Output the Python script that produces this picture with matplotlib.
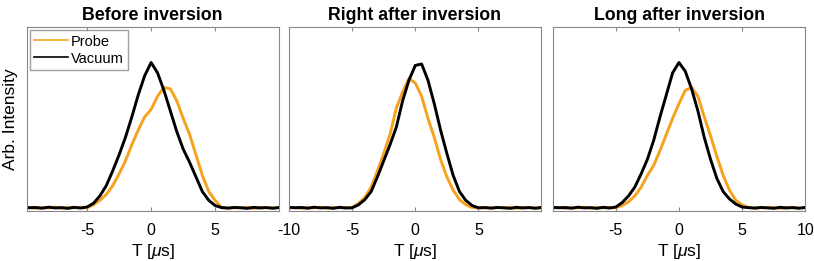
import numpy as np
import matplotlib
matplotlib.use('Agg')
import matplotlib.pyplot as plt

plt.rcParams['font.family'] = ['Liberation Sans', 'DejaVu Sans']
plt.rcParams['axes.unicode_minus'] = False
plt.rcParams['mathtext.fontset'] = 'custom'
plt.rcParams['mathtext.it'] = 'Liberation Sans:italic'
plt.rcParams['mathtext.rm'] = 'Liberation Sans'

# time axis [us], 0.5 us steps from -10 to 10
t = np.arange(-10, 10.01, 0.5)

titles = ['Before inversion', 'Right after inversion', 'Long after inversion']
xlims = [(-9.7, 9.95), (-10, 9.95), (-9.95, 10)]
xticks = [[-5, 0, 5], [-10, -5, 0, 5], [-5, 0, 5, 10]]

# baseline noise (left: -10..-5.5, right: 5.5..10)
base_l = [0.008, 0.013, 0.006, 0.011, 0.009, 0.014, 0.007, 0.012, 0.010, 0.013]
base_r = [0.012, 0.007, 0.011, 0.009, 0.013, 0.006, 0.010, 0.012, 0.008, 0.011]

# central part, -5..5
vac_before = [0.015, 0.04, 0.09, 0.16, 0.26, 0.37, 0.49, 0.63, 0.78, 0.91, 1.00,
              0.93, 0.81, 0.67, 0.53, 0.41, 0.32, 0.22, 0.12, 0.06, 0.025]
probe_before = [0.010, 0.03, 0.06, 0.10, 0.16, 0.24, 0.33, 0.44, 0.54, 0.63, 0.68,
                0.77, 0.83, 0.82, 0.74, 0.62, 0.51, 0.37, 0.23, 0.12, 0.06]

vac_right = [0.010, 0.03, 0.065, 0.12, 0.22, 0.33, 0.44, 0.56, 0.74, 0.88, 0.98,
             0.99, 0.88, 0.72, 0.54, 0.38, 0.23, 0.12, 0.06, 0.025, 0.01]
probe_right = [0.010, 0.04, 0.08, 0.15, 0.26, 0.38, 0.51, 0.69, 0.80, 0.89, 0.86,
               0.77, 0.62, 0.49, 0.34, 0.22, 0.13, 0.065, 0.03, 0.012, 0.008]

vac_long = [0.015, 0.045, 0.09, 0.15, 0.24, 0.34, 0.47, 0.63, 0.78, 0.93, 1.00,
            0.94, 0.82, 0.67, 0.49, 0.34, 0.21, 0.12, 0.07, 0.035, 0.015]
probe_long = [0.010, 0.025, 0.05, 0.09, 0.15, 0.23, 0.30, 0.40, 0.51, 0.62, 0.72,
              0.81, 0.83, 0.77, 0.63, 0.50, 0.36, 0.23, 0.13, 0.06, 0.03]

probes = [probe_before, probe_right, probe_long]
vacs = [vac_before, vac_right, vac_long]

orange = '#f7a21e'

fig = plt.figure(figsize=(8.14, 2.61), dpi=100)
lefts = [0.0328, 0.355, 0.6797]

for i in range(3):
    ax = fig.add_axes([lefts[i], 0.1927, 0.3096, 0.7027])
    p = np.array(base_l + probes[i] + base_r)
    v = np.array(base_l[::-1] + vacs[i] + base_r[::-1])
    ax.plot(t, p, color=orange, lw=2.1, label='Probe')
    ax.plot(t, v, color='black', lw=2.1, label='Vacuum')
    ax.set_xlim(*xlims[i])
    ax.set_ylim(-0.01, 1.24)
    ax.set_xticks(xticks[i])
    ax.set_yticks([])
    ax.tick_params(axis='x', direction='in', length=3, top=True, labelsize=11.5,
                   color='#888888', pad=9)
    for s in ax.spines.values():
        s.set_color('#888888')
        s.set_linewidth(0.8)
    ax.set_title(titles[i], fontsize=12.8, fontweight='bold', pad=5)
    ax.set_xlabel('T [$\\mu$s]', fontsize=12.5, labelpad=3)
    if i == 0:
        ax.set_ylabel('Arb. Intensity', fontsize=12.5, labelpad=6)
        leg = ax.legend(loc='upper left', fontsize=10.5, frameon=True, fancybox=False,
                        edgecolor='#888888', handlelength=2.3, borderpad=0.3,
                        labelspacing=0.2, handletextpad=0.2, borderaxespad=0.2)
        for h in leg.get_lines():
            h.set_linewidth(1.2)

plt.savefig('out.png', dpi=100)
